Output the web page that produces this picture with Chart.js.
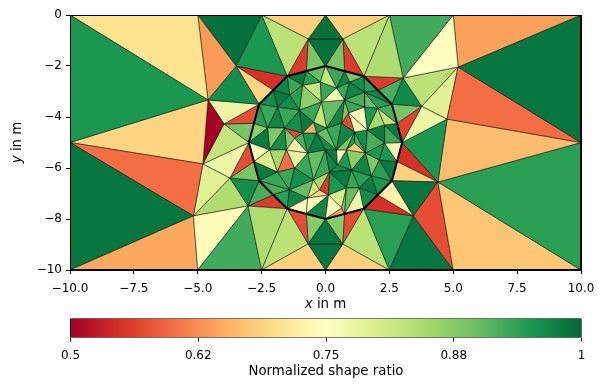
<!DOCTYPE html>
<html>
<head>
<meta charset="utf-8">
<title>Mesh quality</title>
<script src="https://cdn.jsdelivr.net/npm/chart.js@4/dist/chart.umd.min.js"></script>
<style>
  html, body { margin: 0; padding: 0; background: #fff; }
  canvas { position: absolute; left: 0; }
  #mesh { top: 0; }
  #bar { top: 312px; }
</style>
</head>
<body>
<canvas id="mesh" width="605" height="312"></canvas>
<canvas id="bar" width="605" height="68"></canvas>
<script>
// Tick values and labels
const xTicks = [-10, -7.5, -5, -2.5, 0, 2.5, 5, 7.5, 10];
const xTickLabels = ['\u221210.0', '\u22127.5', '\u22125.0', '\u22122.5', '0.0', '2.5', '5.0', '7.5', '10.0'];
const yTicks = [0, -2, -4, -6, -8, -10];
const yTickLabels = ['0', '\u22122', '\u22124', '\u22126', '\u22128', '\u221210'];
const barTicks = [0.5, 0.625, 0.75, 0.875, 1];
const barTickLabels = ['0.5', '0.62', '0.75', '0.88', '1'];

// RdYlGn
const colorStops = ['#a50026', '#d73027', '#f46d43', '#fdae61', '#fee08b', '#ffffbf', '#d9ef8b', '#a6d96a', '#66bd63', '#1a9850', '#006837'];

// Mesh nodes: name, x, y
const outerNodes = [
  ['TL', -10, 0], ['T1', -5, 0], ['T2', -2.5, 0], ['T3', 0, 0], ['T4', 2.5, 0], ['T5', 5, 0], ['TR', 10, 0],
  ['L', -10, -5], ['Rt', 10, -5],
  ['BL', -10, -10], ['B1x', -5, -10], ['B2x', -2.5, -10], ['B3x', 0, -10], ['B4x', 2.5, -10], ['B5x', 5, -10], ['BR', 10, -10],
  ['n1', -4.6, -3.33], ['n2', -3.5, -2], ['n3', -3.97, -4.27], ['n4', -5.17, -7.88], ['n5', -4.8, -5.84], ['n6', -3.74, -6.39], ['n7', -3.03, -7.49],
  ['n9', -0.68, -0.94], ['n10', 0.68, -0.94], ['n12', 3.04, -2.47], ['n13', 5.19, -2.04], ['n14', 4.76, -4.08], ['n15', 3.77, -3.58],
  ['n16', 4.4, -6.55], ['n17', 3.44, -7.88], ['n18', -0.68, -8.98], ['n19', 0.68, -8.98]
];
const ringNodes = [
  ['R0', 0, -2], ['R1', 1.5, -2.4], ['R2', 2.6, -3.5], ['R3', 3, -5], ['R4', 2.6, -6.5], ['R5', 1.5, -7.6],
  ['R6', 0, -8], ['R7', -1.5, -7.6], ['R8', -2.6, -6.5], ['R9', -3, -5], ['R10', -2.6, -3.5], ['R11', -1.5, -2.4]
];
const ringMidNodes = [
  ['M0', -0.75, -2.2], ['M1', 0.75, -2.2], ['M2', 2.05, -2.95], ['M3', 2.8, -4.25], ['M4', 2.8, -5.75], ['M5', 2.05, -7.05],
  ['M6', 0.75, -7.8], ['M7', -0.75, -7.8], ['M8', -2.05, -2.95], ['M9', -2.8, -4.25], ['M10', -2.8, -5.75], ['M11', -2.05, -7.05]
];
const innerNodes = [
  ['B0', -0.2, -2.63], ['B1', 0.43, -2.86], ['B2', 0.94, -2.63], ['B3', 1.53, -3.02], ['B4', 2.04, -3.65], ['B5', 2.31, -4.31],
  ['B6', 2.31, -5.02], ['B7', 2.11, -5.69], ['B8', 1.8, -6.31], ['B9', 1.33, -6.78], ['B10', 0.82, -6.78], ['B11', 0.12, -7.06],
  ['B12', -0.7, -7.18], ['B13', -1.41, -6.86], ['B14', -1.88, -6.16], ['B15', -2.19, -5.29], ['B16', -2.27, -4.43], ['B17', -1.88, -3.61],
  ['B18', -1.41, -3.14], ['B19', -0.9, -2.75],
  ['C0', -0.16, -3.41], ['C1', 0.74, -3.33], ['C2', 1.53, -3.61], ['C3', 1.64, -4.51], ['C4', 1.57, -5.41], ['C5', 1.02, -6.08],
  ['C6', 0.16, -6.16], ['C7', -0.47, -6.47], ['C8', -1.21, -6], ['C9', -1.53, -5.29], ['C10', -1.6, -4.43], ['C11', -1.02, -3.73],
  ['D0', -0.47, -4.2], ['D1', 0.9, -3.84], ['D2', 1.14, -4.59], ['D3', 0.82, -5.29], ['D4', -0.7, -5.41], ['D5', -0.9, -4.63],
  ['D6', 0.63, -4.24], ['D7', -1.21, -4.82], ['E1', 0.04, -4.43], ['E2', 0, -5.29], ['F', 0.47, -5.88], ['G', 0.43, -5.29],
  ['H', 0.63, -7.57], ['X', -0.35, -4.63], ['Y', 1.14, -5.02], ['Z', -0.23, -6.86]
];

// Triangles outside the ring: three nodes, shape ratio
const outerTriangles = [
  ['TL', 'L', 'n1', 0.95], ['TL', 'T1', 'n1', 0.705], ['T1', 'n1', 'n2', 0.635], ['T1', 'T2', 'n2', 0.99],
  ['T2', 'n2', 'R11', 0.95], ['T2', 'R11', 'n9', 0.83], ['T2', 'T3', 'n9', 0.685], ['T3', 'n9', 'n10', 0.99],
  ['n9', 'n10', 'R0', 0.99], ['n9', 'R11', 'M0', 0.56], ['n9', 'M0', 'R0', 0.885], ['n10', 'R0', 'M1', 0.885],
  ['n10', 'M1', 'R1', 0.56], ['T3', 'n10', 'T4', 0.685], ['T4', 'n10', 'R1', 0.83], ['T4', 'R1', 'n12', 0.84],
  ['T4', 'T5', 'n12', 0.925], ['T5', 'n12', 'n13', 0.75], ['T5', 'TR', 'n13', 0.64], ['TR', 'Rt', 'n13', 0.985],
  ['n13', 'Rt', 'n14', 0.6], ['n13', 'n14', 'n15', 0.79], ['n13', 'n15', 'n12', 0.83], ['n12', 'n15', 'R2', 0.965],
  ['R1', 'M2', 'n12', 0.56], ['M2', 'n12', 'R2', 0.92], ['n15', 'R2', 'M3', 0.885], ['n15', 'M3', 'R3', 0.565],
  ['n15', 'R3', 'n14', 0.775], ['n14', 'R3', 'n16', 0.95], ['n14', 'n16', 'Rt', 0.665], ['n16', 'Rt', 'BR', 0.94],
  ['n16', 'BR', 'B5x', 0.675], ['n16', 'B5x', 'n17', 0.575], ['n17', 'B5x', 'B4x', 0.985], ['n16', 'n17', 'R4', 0.985],
  ['n16', 'R4', 'M4', 0.685], ['n16', 'M4', 'R3', 0.55], ['n17', 'R4', 'M5', 0.73], ['n17', 'M5', 'R5', 0.55],
  ['R5', 'n17', 'B4x', 0.94], ['R5', 'B4x', 'n19', 0.83], ['R5', 'n19', 'M6', 0.575], ['M6', 'n19', 'R6', 0.875],
  ['R6', 'n19', 'n18', 0.985], ['n18', 'n19', 'B3x', 0.985], ['n19', 'B3x', 'B4x', 0.685], ['n18', 'B2x', 'B3x', 0.685],
  ['R7', 'n18', 'B2x', 0.83], ['R7', 'n18', 'M7', 0.575], ['M7', 'n18', 'R6', 0.875], ['R7', 'n7', 'B2x', 0.84],
  ['n7', 'B1x', 'B2x', 0.925], ['n4', 'B1x', 'n7', 0.745], ['n4', 'BL', 'B1x', 0.645], ['n4', 'L', 'BL', 0.985],
  ['n4', 'L', 'n5', 0.6], ['L', 'n1', 'n5', 0.69], ['n1', 'n3', 'n5', 0.5], ['n1', 'n2', 'R10', 0.96],
  ['n2', 'R10', 'M8', 0.69], ['n2', 'R11', 'M8', 0.55], ['n1', 'R10', 'n3', 0.775], ['n3', 'R10', 'M9', 0.575],
  ['n3', 'M9', 'R9', 0.885], ['n3', 'R9', 'n5', 0.82], ['n5', 'R9', 'n6', 0.775], ['R9', 'n6', 'M10', 0.575],
  ['n6', 'M10', 'R8', 0.885], ['n6', 'R8', 'n7', 0.96], ['R8', 'n7', 'M11', 0.92], ['n7', 'M11', 'R7', 0.56],
  ['n5', 'n6', 'n4', 0.79], ['n6', 'n4', 'n7', 0.84]
];

// Triangles inside the ring
const innerTriangles = [
  ['R0', 'B0', 'B1', 0.82], ['R0', 'M1', 'B1', 0.93], ['M1', 'B2', 'B1', 0.97], ['M1', 'R1', 'B2', 0.88],
  ['R1', 'B3', 'B2', 0.96], ['R1', 'M2', 'B3', 0.94], ['M2', 'R2', 'B3', 0.97], ['R2', 'B4', 'B3', 0.94],
  ['R2', 'M3', 'B4', 0.92], ['M3', 'B5', 'B4', 0.82], ['M3', 'R3', 'B5', 0.98], ['R3', 'B6', 'B5', 0.93],
  ['R3', 'M4', 'B6', 0.76], ['M4', 'B7', 'B6', 0.95], ['M4', 'R4', 'B7', 0.98], ['R4', 'B8', 'B7', 0.94],
  ['R4', 'M5', 'B8', 0.95], ['M5', 'B9', 'B8', 0.98], ['M5', 'R5', 'B9', 0.96], ['R5', 'M6', 'B9', 0.77],
  ['M6', 'B10', 'B9', 0.9], ['M6', 'H', 'B10', 0.88], ['R6', 'M6', 'H', 0.64], ['R6', 'H', 'B11', 0.75],
  ['H', 'B10', 'B11', 0.8], ['R6', 'M7', 'B11', 0.97], ['M7', 'B12', 'B11', 0.76], ['M7', 'R7', 'B12', 0.74],
  ['R7', 'B13', 'B12', 0.97], ['R7', 'M11', 'B13', 0.94], ['M11', 'R8', 'B13', 0.92], ['R8', 'B14', 'B13', 0.93],
  ['R8', 'M10', 'B14', 0.98], ['M10', 'B15', 'B14', 0.8], ['M10', 'R9', 'B15', 0.76], ['R9', 'B16', 'B15', 0.98],
  ['R9', 'M9', 'B16', 0.87], ['M9', 'R10', 'B16', 0.94], ['R10', 'B17', 'B16', 0.93], ['R10', 'M8', 'B17', 0.96],
  ['M8', 'B18', 'B17', 0.98], ['M8', 'R11', 'B18', 0.97], ['R11', 'B19', 'B18', 0.93], ['R11', 'M0', 'B19', 0.98],
  ['M0', 'B0', 'B19', 0.94], ['M0', 'R0', 'B0', 0.9],
  ['B0', 'B1', 'C0', 0.93], ['B1', 'C1', 'C0', 0.76], ['B1', 'B2', 'C1', 0.93], ['B2', 'B3', 'C1', 0.97],
  ['B3', 'C2', 'C1', 0.92], ['B3', 'B4', 'C2', 0.9], ['B4', 'C3', 'C2', 0.95], ['B4', 'B5', 'C3', 0.85],
  ['B5', 'B6', 'C3', 0.98], ['B6', 'C4', 'C3', 0.92], ['B6', 'B7', 'C4', 0.95], ['B7', 'B8', 'C4', 0.88],
  ['B8', 'C5', 'C4', 0.97], ['B8', 'B9', 'C5', 0.94], ['B9', 'B10', 'C5', 0.93], ['B10', 'C6', 'C5', 0.98],
  ['B10', 'B11', 'C6', 0.95], ['C6', 'Z', 'B11', 0.56], ['Z', 'B11', 'B12', 0.69], ['Z', 'C6', 'C7', 0.85],
  ['Z', 'C7', 'B12', 0.8], ['B12', 'B13', 'C7', 0.9], ['B13', 'C8', 'C7', 0.96], ['B13', 'B14', 'C8', 0.93],
  ['B14', 'C9', 'C8', 0.6], ['B14', 'B15', 'C9', 0.85], ['B15', 'C10', 'C9', 0.96], ['B15', 'B16', 'C10', 0.88],
  ['B16', 'B17', 'C10', 0.97], ['B17', 'C11', 'C10', 0.93], ['B17', 'B18', 'C11', 0.96], ['B18', 'B19', 'C11', 0.94],
  ['B19', 'C0', 'C11', 0.87], ['B19', 'B0', 'C0', 0.82],
  ['C11', 'C0', 'D0', 0.93], ['C11', 'D0', 'D5', 0.98], ['C11', 'D5', 'C10', 0.96], ['C10', 'D5', 'D7', 0.57],
  ['C10', 'D7', 'C9', 0.88], ['D7', 'D5', 'D4', 0.92], ['C9', 'D7', 'D4', 0.77], ['D4', 'C9', 'C8', 0.78],
  ['D4', 'C8', 'C7', 0.93], ['D0', 'X', 'D5', 0.65], ['D5', 'X', 'D4', 0.95], ['X', 'E2', 'D4', 0.98],
  ['D0', 'C0', 'E1', 0.82], ['C0', 'C1', 'E1', 0.9], ['C1', 'D6', 'E1', 0.97], ['C1', 'D1', 'D6', 0.88],
  ['C1', 'C2', 'D1', 0.93], ['C2', 'C3', 'D1', 0.75], ['D1', 'C3', 'D2', 0.74], ['D1', 'D6', 'D2', 0.57],
  ['D6', 'D2', 'G', 0.97], ['E1', 'D6', 'G', 0.93], ['X', 'E1', 'D0', 0.95], ['X', 'E1', 'G', 0.9],
  ['X', 'G', 'E2', 0.96], ['D2', 'C3', 'C4', 0.96], ['D2', 'C4', 'Y', 0.92], ['Y', 'C4', 'D3', 0.68],
  ['D2', 'Y', 'D3', 0.95], ['D2', 'D3', 'G', 0.88], ['G', 'D3', 'F', 0.75], ['D3', 'C4', 'C5', 0.87],
  ['D3', 'C5', 'F', 0.95], ['F', 'C5', 'C6', 0.96], ['G', 'F', 'E2', 0.98], ['E2', 'F', 'C6', 0.97],
  ['E2', 'C6', 'C7', 0.93], ['E2', 'C7', 'D4', 0.9]
];

// Thick outline of the ring and the domain
const ringOutline = ['R0', 'R1', 'R2', 'R3', 'R4', 'R5', 'R6', 'R7', 'R8', 'R9', 'R10', 'R11', 'R0'];
const domainOutline = ['TL', 'TR', 'BR', 'BL', 'TL'];

const nodeLookup = {};
[...outerNodes, ...ringNodes, ...ringMidNodes, ...innerNodes].forEach(n => {
  nodeLookup[n[0]] = { x: n[1], y: n[2] };
});

function hexToRgb(hex) {
  return [1, 3, 5].map(i => parseInt(hex.slice(i, i + 2), 16));
}

// Normalized ratio 0.5..1 to a colour on the map
function ratioColor(ratio) {
  const t = Math.min(Math.max((ratio - 0.5) / 0.5, 0), 1) * (colorStops.length - 1);
  const i = Math.min(Math.floor(t), colorStops.length - 2);
  const a = hexToRgb(colorStops[i]);
  const b = hexToRgb(colorStops[i + 1]);
  const c = a.map((v, k) => Math.round(v + (b[k] - v) * (t - i)));
  return `rgb(${c[0]},${c[1]},${c[2]})`;
}

const tickFont = { family: '"DejaVu Sans"', size: 12 };
const labelFont = { family: '"DejaVu Sans"', size: 13.33 };
const lineBase = { showLine: true, pointRadius: 0, pointHoverRadius: 0, tension: 0 };

const datasets = [
  { ...lineBase, data: ringOutline.map(n => nodeLookup[n]), borderColor: '#000', borderWidth: 2, fill: false },
  { ...lineBase, data: domainOutline.map(n => nodeLookup[n]), borderColor: '#000', borderWidth: 2, fill: false, clip: { left: 0, top: 0, right: 2, bottom: 2 } }
];
[...innerTriangles, ...outerTriangles].forEach(t => {
  const corners = [t[0], t[1], t[2], t[0]].map(n => nodeLookup[n]);
  datasets.push({
    ...lineBase,
    data: corners,
    borderColor: 'rgba(0,0,0,0.85)',
    borderWidth: 0.6,
    fill: 'shape',
    backgroundColor: ratioColor(t[3])
  });
});

// Axis names with an italic variable, as in "x in m"
const axisNames = {
  id: 'axisNames',
  afterDraw(chart) {
    const ctx = chart.ctx;
    const area = chart.chartArea;
    const put = (name, rest) => {
      ctx.font = 'italic 13.33px "DejaVu Sans"';
      const w1 = ctx.measureText(name).width;
      ctx.font = '13.33px "DejaVu Sans"';
      const w2 = ctx.measureText(rest).width;
      const x = -(w1 + w2) / 2;
      ctx.textAlign = 'left';
      ctx.textBaseline = 'middle';
      ctx.fillStyle = '#000';
      ctx.font = 'italic 13.33px "DejaVu Sans"';
      ctx.fillText(name, x, 0);
      ctx.font = '13.33px "DejaVu Sans"';
      ctx.fillText(rest, x + w1, 0);
    };
    ctx.save();
    ctx.translate((area.left + area.right) / 2, area.bottom + 35);
    put('x', ' in m');
    ctx.restore();
    ctx.save();
    ctx.translate(18, (area.top + area.bottom) / 2);
    ctx.rotate(-Math.PI / 2);
    put('y', ' in m');
    ctx.restore();
  }
};

new Chart(document.getElementById('mesh').getContext('2d'), {
  type: 'scatter',
  data: { datasets: datasets },
  plugins: [axisNames],
  options: {
    responsive: false,
    animation: false,
    events: [],
    layout: { padding: { left: 0, right: 24, top: 15, bottom: 0 } },
    plugins: { legend: { display: false }, tooltip: { enabled: false } },
    scales: {
      x: {
        type: 'linear',
        min: -10,
        max: 10,
        afterBuildTicks: axis => { axis.ticks = xTicks.map(v => ({ value: v })); },
        afterFit: axis => { axis.height = 42; },
        grid: { drawOnChartArea: false, drawTicks: true, tickLength: 4, color: '#000' },
        border: { display: true, color: '#000', width: 1 },
        ticks: {
          color: '#000',
          font: tickFont,
          padding: 8,
          maxRotation: 0,
          autoSkip: false,
          callback: v => xTickLabels[xTicks.indexOf(v)]
        }
      },
      y: {
        type: 'linear',
        min: -10,
        max: 0,
        afterBuildTicks: axis => { axis.ticks = yTicks.map(v => ({ value: v })); },
        afterFit: axis => { axis.width = 70; },
        grid: { drawOnChartArea: false, drawTicks: true, tickLength: 4, color: '#000' },
        border: { display: true, color: '#000', width: 1 },
        ticks: {
          color: '#000',
          font: tickFont,
          padding: 4,
          autoSkip: false,
          callback: v => yTickLabels[yTicks.indexOf(v)]
        }
      }
    }
  }
});

// Colour bar
const barGradient = context => {
  const chart = context.chart;
  if (!chart.chartArea) return '#fff';
  const g = chart.ctx.createLinearGradient(chart.chartArea.left, 0, chart.chartArea.right, 0);
  colorStops.forEach((c, i) => g.addColorStop(i / (colorStops.length - 1), c));
  return g;
};

new Chart(document.getElementById('bar').getContext('2d'), {
  type: 'scatter',
  data: {
    datasets: [
      { ...lineBase, data: [{ x: 0.5, y: 0 }, { x: 1, y: 0 }, { x: 1, y: 1 }, { x: 0.5, y: 1 }, { x: 0.5, y: 0 }], borderColor: '#000', borderWidth: 1, fill: 'shape', backgroundColor: barGradient }
    ]
  },
  options: {
    responsive: false,
    animation: false,
    events: [],
    layout: { padding: { left: 70.5, right: 23.5, top: 6.5, bottom: 0 } },
    plugins: { legend: { display: false }, tooltip: { enabled: false } },
    scales: {
      x: {
        type: 'linear',
        min: 0.5,
        max: 1,
        afterBuildTicks: axis => { axis.ticks = barTicks.map(v => ({ value: v })); },
        afterFit: axis => { axis.height = 42.5; },
        grid: { drawOnChartArea: false, drawTicks: true, tickLength: 4, color: '#000' },
        border: { display: false },
        title: { display: true, text: 'Normalized shape ratio', color: '#000', font: labelFont, padding: { top: 3, bottom: 0 } },
        ticks: {
          color: '#000',
          font: tickFont,
          padding: 7,
          maxRotation: 0,
          autoSkip: false,
          callback: v => barTickLabels[barTicks.indexOf(v)]
        }
      },
      y: { type: 'linear', min: 0, max: 1, display: false }
    }
  }
});
</script>
</body>
</html>
